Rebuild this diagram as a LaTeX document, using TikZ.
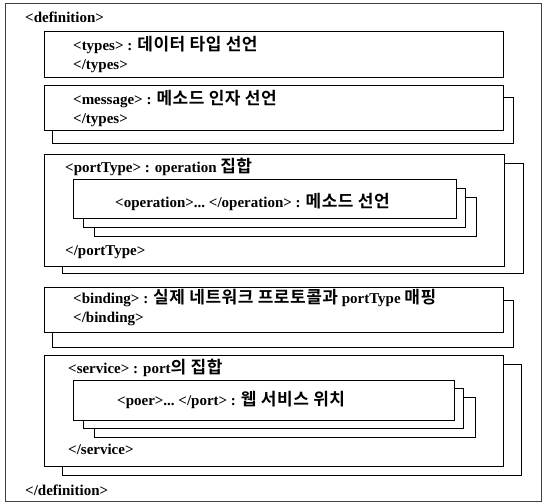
\documentclass[tikz,border=0pt]{standalone}
\usepackage{fontspec}
\setmainfont{Liberation Serif}
\newfontfamily\krfont{Noto Sans CJK KR}[BoldFont={* Bold},LetterSpace=3]
\newcommand{\kr}{\krfont\fontsize{17}{17}\selectfont}
\begin{document}
\begin{tikzpicture}[x=1pt,y=-1pt,
  frame/.style={draw=black!75, line width=0.6pt, inner sep=0pt, outer sep=0pt, anchor=north west},
  box/.style={draw=black, line width=0.9pt, fill=white, inner sep=0pt, outer sep=0pt, anchor=north west},
  txt/.style={anchor=west, inner sep=0pt, font=\fontsize{15}{17}\selectfont\bfseries}]
\useasboundingbox (0,0) rectangle (545,503);

% outer frame
\node[frame, minimum width=536pt, minimum height=498pt] (outer) at (5,3) {};
\node[txt] (defopen) at (25,17) {<definition>};
\node[txt] (defclose) at (25,490) {</definition>};

% types
\node[box, minimum width=459pt, minimum height=46pt] (types) at (44,31) {};
\node[txt] (typesA) at (73,45) {<types>\ : {\kr 데이터 타입 선언}};
\node[txt] (typesB) at (73,66) {</types>};

% message
\node[box, minimum width=461pt, minimum height=46pt] (msgS) at (52,97) {};
\node[box, minimum width=459pt, minimum height=45pt] (msg) at (44,85) {};
\node[txt] (msgA) at (73,99) {<message>\ : {\kr 메소드 인자 선언}};
\node[txt] (msgB) at (73,120) {</types>};

% portType with operations
\node[box, minimum width=461pt, minimum height=110pt] (ptS) at (62,163) {};
\node[box, minimum width=460pt, minimum height=112pt] (pt) at (44,154) {};
\node[txt] (ptA) at (65,167) {<portType>\ : operation {\kr 집합}};
\node[txt] (ptB) at (65,252) {</portType>};
\node[box, minimum width=382pt, minimum height=39pt] (opS2) at (94,197) {};
\node[box, minimum width=382pt, minimum height=39pt] (opS1) at (83,188) {};
\node[box, minimum width=383pt, minimum height=39pt] (op) at (73,179) {};
\node[txt] (opA) at (115,202) {<operation>...\ </operation>\ : {\kr 메소드 선언}};

% binding
\node[box, minimum width=461pt, minimum height=47pt] (bindS) at (52,300) {};
\node[box, minimum width=459pt, minimum height=45pt] (bind) at (44,287) {};
\node[txt] (bindA) at (73,298) {<binding>\ : {\kr 실제 네트워크 프로토콜과} portType {\kr 매핑}};
\node[txt] (bindB) at (73,319) {</binding>};

% service with ports
\node[box, minimum width=459pt, minimum height=111pt] (svcS) at (62,364) {};
\node[box, minimum width=459pt, minimum height=111pt] (svc) at (44,355) {};
\node[txt] (svcA) at (68,368) {<service>\ : port{\kr 의 집합}};
\node[txt] (svcB) at (68,449) {</service>};
\node[box, minimum width=381pt, minimum height=40pt] (portS2) at (94,397) {};
\node[box, minimum width=380pt, minimum height=40pt] (portS1) at (83,388) {};
\node[box, minimum width=381pt, minimum height=40pt] (port) at (73,380) {};
\node[txt] (portA) at (117,400) {<poer>...\ </port>\ : {\kr 웹 서비스 위치}};
\end{tikzpicture}
\end{document}
